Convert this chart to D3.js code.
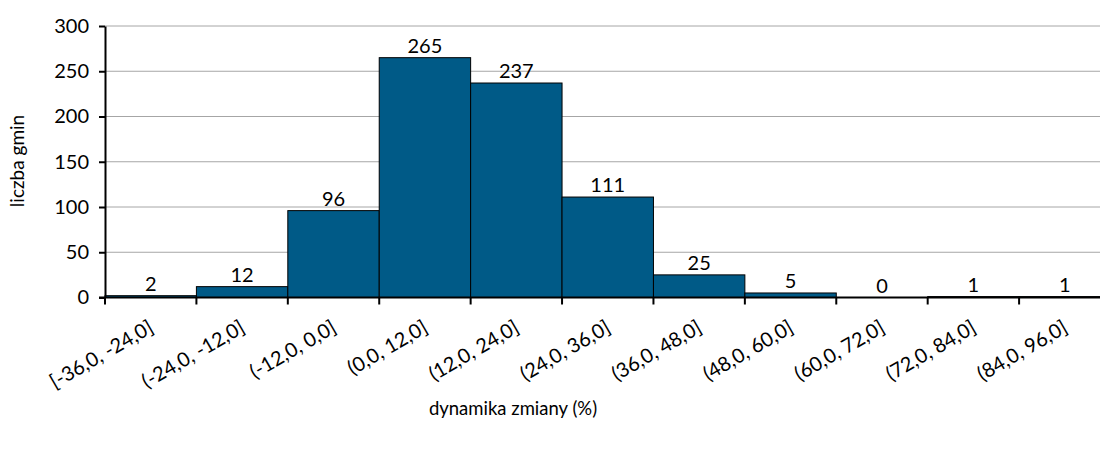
<!DOCTYPE html>
<html>
<head>
<meta charset="utf-8">
<script src="https://cdn.jsdelivr.net/npm/d3@7"></script>
<style>
  body { margin: 0; background: #fff; }
  svg text { font-family: Lato, "Open Sans", sans-serif; fill: #000; }
</style>
</head>
<body>
<div id="chart"></div>
<script>
// przedzialy dynamiki zmiany i liczba gmin
var categories = ["[-36,0, -24,0]", "(-24,0, -12,0]", "(-12,0, 0,0]", "(0,0, 12,0]", "(12,0, 24,0]",
                  "(24,0, 36,0]", "(36,0, 48,0]", "(48,0, 60,0]", "(60,0, 72,0]", "(72,0, 84,0]", "(84,0, 96,0]"];
var counts = [2, 12, 96, 265, 237, 111, 25, 5, 0, 1, 1];
var yTicks = [0, 50, 100, 150, 200, 250, 300];

var width = 1100, height = 449;
var margin = {top: 26, left: 105, bottom: 152};
var plotRight = 1110.5;

var svg = d3.select("#chart").append("svg")
    .attr("width", width)
    .attr("height", height);

var x = d3.scaleBand()
    .domain(categories)
    .range([margin.left, plotRight])
    .padding(0);

var y = d3.scaleLinear()
    .domain([0, 300])
    .range([height - margin.bottom + 0.5, margin.top]);

//gridlines
svg.append("g")
    .selectAll("line")
    .data(yTicks.slice(1))
    .enter()
    .append("line")
    .attr("x1", margin.left)
    .attr("x2", width)
    .attr("y1", function(d){ return y(d); })
    .attr("y2", function(d){ return y(d); })
    .attr("stroke", "#a6a6a6")
    .attr("stroke-width", 1);

//bars
svg.append("g")
    .selectAll("rect")
    .data(counts)
    .enter()
    .append("rect")
    .attr("x", function(d, i){ return x(categories[i]); })
    .attr("y", function(d){ return y(d); })
    .attr("width", x.bandwidth())
    .attr("height", function(d){ return y(0) - y(d); })
    .attr("fill", "#005a87")
    .attr("stroke", "#000")
    .attr("stroke-width", 1);

//value labels
svg.append("g")
    .selectAll("text")
    .data(counts)
    .enter()
    .append("text")
    .attr("x", function(d, i){ return x(categories[i]) + x.bandwidth() / 2; })
    .attr("y", function(d){ return y(d) - 5; })
    .attr("text-anchor", "middle")
    .style("font-size", "20px")
    .text(function(d){ return d; });

//y axis
var yAxis = svg.append("g")
    .attr("transform", "translate(" + margin.left + ",0)")
    .call(d3.axisLeft(y).tickValues(yTicks).tickSize(6).tickSizeOuter(0));
yAxis.select(".domain").attr("stroke", "#000").attr("stroke-width", 2);
yAxis.selectAll(".tick line").attr("stroke", "#000").attr("stroke-width", 2);
yAxis.selectAll(".tick text")
    .attr("x", -16)
    .style("font-size", "20px")
    .style("font-family", "Lato, sans-serif");

//x axis
var xAxis = svg.append("g")
    .attr("transform", "translate(0," + y(0) + ")");
xAxis.append("line")
    .attr("x1", margin.left - 6)
    .attr("x2", width)
    .attr("stroke", "#000")
    .attr("stroke-width", 2);
xAxis.selectAll(".xtick")
    .data(categories)
    .enter()
    .append("line")
    .attr("class", "xtick")
    .attr("x1", function(d){ return x(d); })
    .attr("x2", function(d){ return x(d); })
    .attr("y1", 0)
    .attr("y2", 7)
    .attr("stroke", "#000")
    .attr("stroke-width", 2);
xAxis.selectAll(".xlabel")
    .data(categories)
    .enter()
    .append("text")
    .attr("class", "xlabel")
    .attr("text-anchor", "end")
    .style("font-size", "20px")
    .attr("transform", function(d){
        return "translate(" + (x(d) + x.bandwidth() / 2 + 4) + ",34) rotate(-30)";
    })
    .text(function(d){ return d; });

//axis titles
svg.append("text")
    .attr("x", 513)
    .attr("y", 415)
    .attr("text-anchor", "middle")
    .style("font-size", "18.5px")
    .text("dynamika zmiany (%)");

svg.append("text")
    .attr("transform", "translate(24,161) rotate(-90)")
    .attr("text-anchor", "middle")
    .style("font-size", "19px")
    .text("liczba gmin");
</script>
</body>
</html>
